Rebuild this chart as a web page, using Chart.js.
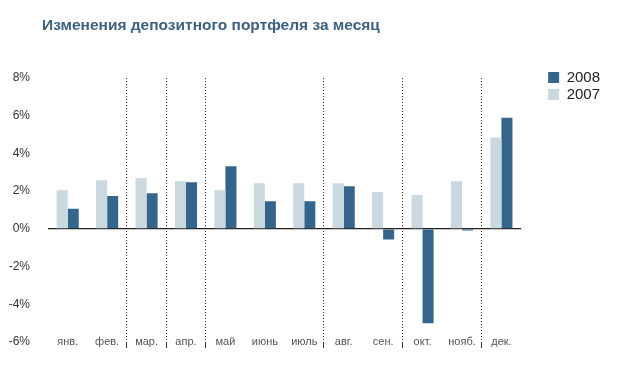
<!DOCTYPE html>
<html>
<head>
<meta charset="utf-8">
<script src="https://cdn.jsdelivr.net/npm/chart.js@4"></script>
<style>
  body { margin: 0; background: #fff; }
  #wrap { position: relative; width: 622px; height: 365px; }
  #title {
    position: absolute; left: 42px; top: 16px;
    font: bold 15.5px "Liberation Sans", Arial, sans-serif;
    color: #3e6180; white-space: nowrap;
  }
</style>
</head>
<body>
<div id="wrap">
  <div id="title">Изменения депозитного портфеля за месяц</div>
  <canvas id="myChart" width="622" height="365"></canvas>
</div>
<script>
// chart data
var months = ['янв.', 'фев.', 'мар.', 'апр.', 'май', 'июнь', 'июль', 'авг.', 'сен.', 'окт.', 'нояб.', 'дек.'];
var values2007 = [2.05, 2.58, 2.68, 2.53, 2.05, 2.42, 2.42, 2.42, 1.95, 1.79, 2.53, 4.84];
var values2008 = [1.07, 1.74, 1.89, 2.47, 3.32, 1.47, 1.47, 2.26, -0.56, -5.0, -0.09, 5.89];
var yTicks = [-6, -4, -2, 0, 2, 4, 6, 8];

// dotted separators sit on these category boundaries
var dottedLines = [2, 3, 4, 7, 9, 11];

var ctx = document.getElementById('myChart').getContext('2d');
var chart = new Chart(ctx, {
  type: 'bar',
  data: {
    labels: months,
    datasets: [{
      label: '2007',
      data: values2007,
      backgroundColor: '#c9d9df'
    }, {
      label: '2008',
      data: values2008,
      backgroundColor: '#35658b'
    }]
  },
  options: {
    responsive: false,
    animation: false,
    layout: { padding: { top: 68, left: 9, right: 12, bottom: 17 } },
    datasets: {
      bar: { categoryPercentage: 0.56, barPercentage: 1 }
    },
    plugins: {
      tooltip: { enabled: false },
      legend: {
        position: 'right',
        align: 'start',
        reverse: true,
        labels: {
          boxWidth: 11,
          boxHeight: 11,
          padding: 2,
          color: '#222',
          font: { family: 'Liberation Sans', size: 15 }
        }
      }
    },
    scales: {
      x: {
        afterFit: function (scale) { scale.height = 6; },
        grid: {
          offset: true,
          color: function (c) {
            return dottedLines.indexOf(c.index) >= 0 ? '#333' : 'rgba(0,0,0,0)';
          },
          lineWidth: 1,
          tickLength: 6
        },
        border: { display: false, dash: [1, 2] },
        ticks: {
          mirror: true,
          padding: -7,
          color: '#555',
          font: { family: 'Liberation Sans', size: 11 }
        }
      },
      y: {
        min: -6,
        max: 8,
        afterBuildTicks: function (scale) {
          scale.ticks = yTicks.map(function (v) { return { value: v }; });
        },
        afterFit: function (scale) {
          scale.width = 39;
          scale.paddingTop = 0;
          scale.paddingBottom = 0;
        },
        grid: {
          drawTicks: false,
          color: function (c) {
            return c.tick && c.tick.value === 0 ? '#222' : 'rgba(0,0,0,0)';
          },
          lineWidth: 1.3
        },
        border: { display: false },
        ticks: {
          padding: 18,
          color: '#333',
          font: { family: 'Liberation Sans', size: 12 },
          callback: function (v) { return v + '%'; }
        }
      },
      gap: {
        position: 'right',
        display: true,
        grid: { display: false },
        border: { display: false },
        ticks: { display: false },
        afterFit: function (scale) { scale.width = 25; }
      },
      topGap: {
        position: 'top',
        display: true,
        grid: { display: false },
        border: { display: false },
        ticks: { display: false },
        afterFit: function (scale) { scale.height = 10; }
      }
    }
  }
});
</script>
</body>
</html>
